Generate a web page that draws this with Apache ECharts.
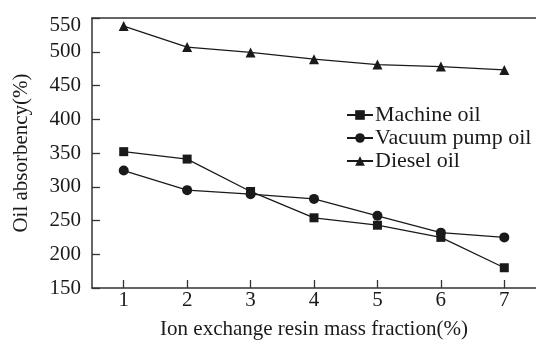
<!DOCTYPE html>
<html>
<head>
<meta charset="utf-8">
<script src="https://cdn.jsdelivr.net/npm/echarts@6/dist/echarts.min.js"></script>
<style>html,body{margin:0;padding:0;background:#fff;}#c{width:536px;height:345px;}</style>
</head>
<body>
<div id="c"></div>
<script>
const xValues = [1, 2, 3, 4, 5, 6, 7];
const machineOil = [352, 341, 293, 254, 243, 225, 180];
const vacuumPumpOil = [324, 295, 289, 282, 257, 232, 225];
const dieselOil = [538, 507, 499, 489, 481, 478, 473];
const seriesNames = ['Machine oil', 'Vacuum pump oil', 'Diesel oil'];
const xAxisTitle = 'Ion exchange resin mass fraction(%)';
const yAxisTitle = 'Oil absorbency(%)';

const font = 'Liberation Serif';
const ink = '#1a1a1a';
const pair = (vals) => xValues.map((x, i) => [x, vals[i]]);

const chart = echarts.init(document.getElementById('c'), null, {renderer: 'canvas'});
const mk = (name, data, symbol, size) => ({
  name, type: 'line', data: pair(data), symbol, symbolSize: size,
  xAxisIndex: 0, yAxisIndex: 0,
  lineStyle: {color: ink, width: 1.3}, itemStyle: {color: ink},
  emphasis: {disabled: true}, animation: false
});
chart.setOption({
  animation: false,
  grid: {left: 92, top: 15, width: 446, height: 278, show: false},
  legend: {
    orient: 'vertical', left: 341, top: 99, itemWidth: 26, itemHeight: 12, itemGap: 1,
    textStyle: {fontFamily: font, fontSize: 22, color: ink, padding: [0, 0, 0, -3]},
    data: seriesNames
  },
  xAxis: [{
    type: 'value', min: 0.5, max: 7.5, interval: 1,
    name: xAxisTitle, nameLocation: 'middle', nameGap: 31,
    nameTextStyle: {fontFamily: font, fontSize: 21, color: ink},
    axisLine: {lineStyle: {color: '#333', width: 1.5}},
    axisTick: {inside: true, length: 8, lineStyle: {color: '#333', width: 1.3}, customValues: xValues},
    axisLabel: {fontFamily: font, fontSize: 21, color: ink, margin: 2, customValues: xValues},
    splitLine: {show: false}
  }, {
    type: 'value', position: 'top', min: 0.5, max: 7.5, interval: 1,
    axisLine: {lineStyle: {color: '#333', width: 1.5}},
    axisTick: {show: false}, axisLabel: {show: false}, splitLine: {show: false}
  }],
  yAxis: {
    type: 'value', min: 150, max: 550, interval: 50,
    name: yAxisTitle, nameLocation: 'middle', nameGap: 60,
    nameTextStyle: {fontFamily: font, fontSize: 21, color: ink},
    axisLine: {show: true, lineStyle: {color: '#333', width: 1.5}},
    axisTick: {show: true, inside: true, length: 8, lineStyle: {color: '#333', width: 1.3}},
    axisLabel: {fontFamily: font, fontSize: 21, color: ink, margin: 11, lineHeight: 15,
      formatter: v => v === 550 ? '\n550' : String(v)},
    splitLine: {show: false}
  },
  series: [
    mk(seriesNames[0], machineOil, 'rect', 9),
    mk(seriesNames[1], vacuumPumpOil, 'circle', 10),
    mk(seriesNames[2], dieselOil, 'triangle', 10)
  ]
});
</script>
</body>
</html>
